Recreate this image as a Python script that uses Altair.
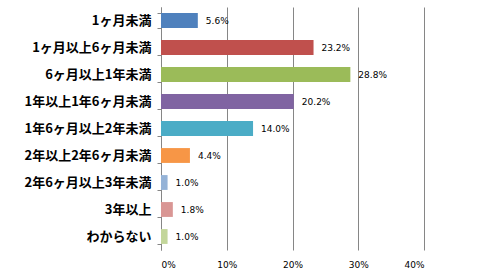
import altair as alt
import pandas as pd

categories = ["1ヶ月未満", "1ヶ月以上6ヶ月未満", "6ヶ月以上1年未満", "1年以上1年6ヶ月未満",
              "1年6ヶ月以上2年未満", "2年以上2年6ヶ月未満", "2年6ヶ月以上3年未満", "3年以上", "わからない"]
values = [5.6, 23.2, 28.8, 20.2, 14.0, 4.4, 1.0, 1.8, 1.0]
colors = ["#4F81BD", "#C0504D", "#9BBB59", "#8064A2", "#4BACC6", "#F79646", "#95B3D7", "#D99694", "#C3D69B"]
x_ticks = [0, 10, 20, 30, 40]

df = pd.DataFrame({"cat": categories, "val": values, "label": [f"{v:.1f}%" for v in values]})

y = alt.Y("cat:N", sort=categories, title=None,
          scale=alt.Scale(paddingInner=0.45, paddingOuter=0.225),
          axis=alt.Axis(labelFont="Noto Sans CJK JP", labelFontWeight="bold", labelFontSize=13,
                        labelColor="#000000", labelPadding=6, tickBand="extent", tickSize=4,
                        tickColor="#868686", domainColor="#868686", labelLimit=200))
x = alt.X("val:Q", title=None, scale=alt.Scale(domain=[0, 40], nice=False),
          axis=alt.Axis(values=x_ticks, labelExpr="datum.value + '%'", ticks=False, domain=False,
                        grid=True, gridColor="#868686", labelFont="DejaVu Sans", labelFontSize=9,
                        labelColor="#000000", labelPadding=10))

bars = alt.Chart(df).mark_bar().encode(
    x=x, y=y,
    color=alt.Color("cat:N", sort=categories, scale=alt.Scale(domain=categories, range=colors), legend=None),
)
text = alt.Chart(df).mark_text(align="left", dx=8, font="DejaVu Sans", fontSize=9, color="#000000").encode(
    x="val:Q", y=alt.Y("cat:N", sort=categories), text="label:N")

chart = (bars + text).properties(
    width=263, height=243,
    autosize=alt.AutoSizeParams(type="none"),
    padding={"left": 161, "top": 7, "right": 73, "bottom": 29},
    background="#ffffff",
).configure_view(stroke=None)

chart.save("out.html", embed_options={"renderer": "svg", "actions": False})
